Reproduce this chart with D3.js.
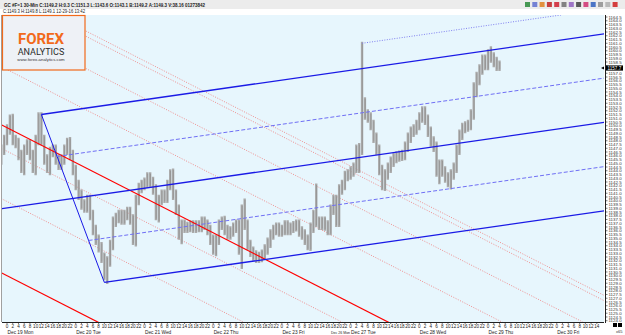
<!DOCTYPE html>
<html><head><meta charset="utf-8">
<script src="https://cdn.jsdelivr.net/npm/d3@7"></script>
<style>body{margin:0;background:#fff;overflow:hidden}svg{display:block;font-family:"Liberation Sans",Arial,sans-serif}</style>
</head><body><svg id="c" width="625" height="335"></svg>
<script>
// ---------------- DATA ----------------
const firstBarHour = -2; // hours relative to Dec 19 00:00, one bar per hour
const barHigh = [1147.3,1148.6,1150.0,1151.3,1151.4,1148.6,1148.2,1146.6,1147.3,1148.0,1148.0,1146.6,1148.6,1151.6,1151.6,1148.6,1146.0,1147.0,1147.3,1147.3,1146.0,1146.0,1147.3,1148.2,1148.3,1146.6,1144.6,1142.6,1141.3,1140.0,1140.6,1140.6,1138.6,1136.6,1135.3,1134.3,1132.9,1132.4,1134.6,1137.7,1138.2,1138.6,1138.6,1138.6,1139.0,1139.0,1138.0,1140.6,1142.2,1142.6,1142.9,1143.6,1143.6,1143.0,1142.0,1140.6,1141.3,1141.3,1142.6,1144.0,1144.1,1141.3,1139.3,1137.3,1137.3,1137.0,1137.2,1137.2,1137.2,1137.2,1137.7,1137.7,1137.3,1136.6,1135.3,1135.3,1137.3,1137.7,1137.8,1136.6,1136.4,1136.9,1137.3,1137.3,1139.3,1140.1,1137.3,1134.6,1133.7,1133.2,1133.0,1133.3,1134.0,1134.9,1136.0,1136.6,1136.9,1136.9,1136.6,1137.2,1137.2,1136.9,1137.1,1137.3,1137.3,1136.4,1136.0,1135.3,1136.9,1138.6,1142.1,1137.7,1137.7,1137.7,1137.2,1139.3,1140.6,1140.6,1142.0,1142.6,1143.8,1144.0,1144.4,1144.9,1147.3,1147.5,1161.0,1153.6,1152.0,1151.6,1150.6,1148.9,1147.3,1144.6,1144.0,1144.9,1145.7,1146.2,1146.4,1146.5,1146.6,1147.7,1148.9,1149.7,1150.0,1150.6,1151.6,1152.4,1152.4,1151.3,1149.7,1148.4,1147.7,1145.3,1145.3,1144.4,1143.6,1144.0,1144.9,1147.3,1149.3,1150.2,1150.4,1150.6,1152.0,1155.6,1157.0,1158.0,1159.3,1159.3,1160.0,1160.4,1159.6,1159.0,1158.5];
const barLow = [1145.0,1146.3,1147.6,1149.0,1147.6,1147.2,1145.6,1143.9,1143.6,1146.3,1145.6,1143.9,1143.6,1147.6,1147.6,1145.0,1143.9,1143.6,1146.0,1145.0,1144.3,1144.3,1145.0,1146.3,1145.6,1143.6,1141.6,1140.3,1139.0,1138.6,1138.6,1137.6,1135.6,1134.3,1133.3,1131.9,1129.6,1129.1,1131.4,1133.6,1136.7,1137.2,1137.0,1137.0,1137.6,1137.0,1134.3,1134.1,1139.6,1141.2,1141.6,1141.9,1142.0,1141.0,1137.6,1137.3,1139.6,1139.9,1139.9,1141.6,1140.3,1138.3,1135.0,1134.4,1135.9,1135.9,1136.0,1135.9,1135.9,1136.0,1136.0,1136.3,1135.6,1134.3,1133.0,1132.8,1134.3,1136.3,1135.6,1135.0,1135.0,1135.4,1135.9,1133.0,1131.1,1136.3,1133.6,1132.7,1132.2,1131.9,1131.9,1132.0,1132.3,1133.0,1133.9,1135.0,1135.6,1135.4,1135.4,1135.6,1135.6,1135.6,1135.9,1136.1,1135.4,1135.0,1134.3,1133.6,1133.5,1135.9,1136.7,1136.3,1136.3,1136.2,1135.6,1135.6,1138.3,1136.7,1136.7,1141.0,1141.6,1142.8,1143.0,1143.4,1143.9,1143.9,1146.3,1151.0,1150.6,1149.6,1147.9,1146.3,1143.6,1141.6,1141.5,1143.0,1143.9,1144.7,1145.2,1145.4,1145.5,1145.6,1146.7,1147.9,1148.7,1149.0,1149.6,1150.6,1150.3,1148.7,1147.4,1146.7,1143.4,1142.4,1143.4,1142.6,1142.0,1141.7,1143.0,1143.9,1146.3,1148.3,1149.2,1149.4,1149.6,1151.0,1154.0,1155.6,1157.0,1157.6,1157.6,1158.6,1158.0,1157.5,1157.5];
const lastPrice = 1157.7;

const dayLabels = ["Dec 19 Mon","Dec 20 Tue","Dec 21 Wed","Dec 22 Thu","Dec 23 Fri","Dec 26 Mon","Dec 27 Tue","Dec 28 Wed","Dec 29 Thu","Dec 30 Fri"];
const dayStartHour = [0,24,48,72,96,113,120,144,168,192];

// Blue Andrews pitchfork pivots [hour, price]
const forkP1 = [-30, 1137.4];
const forkP2 = [12, 1151.5];
const forkP3 = [34, 1129.1];
// Blue dotted trendline [hour, price]
const blueTrend = [[124, 1161.0],[194, 1164.8]];

// Red parallel lines: anchor price at hour 0, common slope (price per hour)
const redSlope = -0.1948;
const redSolidAnchors = [1149.75, 1130.0];
const redDottedAnchors = [1139.9, 1146.6, 1157.5, 1163.0, 1167.3, 1168.0];

const headerLine1 = "GC #F=1 30-Min C:1149.2 H:0.3 C:1151.3 L:1143.6 O:1143.1 B:1149.2 A:1149.3 V:38.16 01273842";
const headerLine2 = "C:1149.3 H:1149.8 L:1149.1 12-29-16 13:42";

// ---------------- DRAW ----------------
const svg = d3.select("#c");
const L = 2, R = 604, T = 15, B = 322;
const x = d3.scaleLinear().domain([-1.75, 208.5]).range([L, R]);
const y = d3.scaleLinear().domain([1123.83, 1164.77]).range([B, T]);

svg.append("rect").attr("width",625).attr("height",335).attr("fill","#ffffff");
// header
svg.append("rect").attr("x",0).attr("y",0).attr("width",625).attr("height",9).attr("fill","#ececec");
svg.append("text").attr("x",4).attr("y",6.6).attr("font-size",5.4).attr("font-weight","bold").attr("fill","#222")
  .attr("textLength",201).attr("lengthAdjust","spacingAndGlyphs").text(headerLine1);
svg.append("text").attr("x",3).attr("y",13.4).attr("font-size",5.2).attr("fill","#222")
  .attr("textLength",82).attr("lengthAdjust","spacingAndGlyphs").text(headerLine2);
// toolbar icons
const iconCols = ["#2a8a3a","#6070d0","#e08020","#c02020","#d02030","#707070","#9060c0","#404040","#d03070","#3060c0","#909090","#b0b0b0","#d02020"];
iconCols.forEach((c,i)=>{
  svg.append("rect").attr("x",525+i*7.3).attr("y",2).attr("width",5).attr("height",5).attr("fill",c).attr("opacity",0.85);
});

// chart area
svg.append("rect").attr("x",L).attr("y",T).attr("width",R-L).attr("height",B-T).attr("fill","#e7f6fd");
svg.append("line").attr("x1",1.5).attr("x2",1.5).attr("y1",T).attr("y2",B).attr("stroke","#a0a0a0").attr("stroke-width",1);
svg.append("defs").append("clipPath").attr("id","clip").append("rect").attr("x",L).attr("y",T).attr("width",R-L).attr("height",B-T);
const plot = svg.append("g").attr("clip-path","url(#clip)");

// red lines
const lineAt = (anchor, h) => anchor + redSlope*h;
redDottedAnchors.forEach(a=>{
  plot.append("line").attr("x1",x(-2)).attr("y1",y(lineAt(a,-2))).attr("x2",x(210)).attr("y2",y(lineAt(a,210)))
    .attr("stroke","#f08f8f").attr("stroke-width",1).attr("stroke-dasharray","1,1.5");
});

// bars
const bars = plot.append("g");
barHigh.forEach((h,i)=>{
  const t = firstBarHour + i;
  bars.append("line").attr("x1",x(t)).attr("x2",x(t)).attr("y1",y(h)-1.5).attr("y2",y(barLow[i])+1.5)
    .attr("stroke","#ababab").attr("stroke-width",2.4);
  bars.append("line").attr("x1",x(t)+0.3).attr("x2",x(t)+0.3).attr("y1",y(h)).attr("y2",y(barLow[i]))
    .attr("stroke","#8a8a8a").attr("stroke-width",0.6);
});

redSolidAnchors.forEach(a=>{
  plot.append("line").attr("x1",x(-2)).attr("y1",y(lineAt(a,-2))).attr("x2",x(210)).attr("y2",y(lineAt(a,210)))
    .attr("stroke","#ff0000").attr("stroke-width",1.2);
});

// blue pitchfork
const M = [(forkP2[0]+forkP3[0])/2, (forkP2[1]+forkP3[1])/2];
const slope = (M[1]-forkP1[1])/(M[0]-forkP1[0]);
const endH = 210;
const seg = (p, h1) => [[p[0],p[1]],[h1, p[1]+slope*(h1-p[0])]];
const drawSeg = (pts, col, w, dash) => plot.append("line")
  .attr("x1",x(pts[0][0])).attr("y1",y(pts[0][1])).attr("x2",x(pts[1][0])).attr("y2",y(pts[1][1]))
  .attr("stroke",col).attr("stroke-width",w).attr("stroke-dasharray",dash||null);
drawSeg([forkP2, forkP3], "#1a1ae6", 1);
drawSeg(seg(forkP1,endH), "#1a1ae6", 1.3);
drawSeg(seg(forkP2,endH), "#1a1ae6", 1.3);
drawSeg(seg(forkP3,endH), "#1a1ae6", 1.3);
const U = [(forkP2[0]+M[0])/2,(forkP2[1]+M[1])/2];
const D = [(forkP3[0]+M[0])/2,(forkP3[1]+M[1])/2];
drawSeg(seg(U,endH), "#6f6ff5", 1, "4,2");
drawSeg(seg(D,endH), "#6f6ff5", 1, "4,2");
drawSeg(blueTrend, "#8080f0", 1, "1,1.5");

// logo (drawn above the chart objects)
const logo = svg.append("g");
logo.append("rect").attr("x",2.5).attr("y",15.5).attr("width",82.5).attr("height",54.5).attr("fill","#eef1f6").attr("stroke","#f26a1b").attr("stroke-width",1.2);
logo.append("text").attr("x",41).attr("y",44).attr("text-anchor","middle").attr("font-size",15).attr("font-weight","bold").attr("fill","#f26a1b").attr("font-family","Roboto,Arial,sans-serif").text("FOREX");
logo.append("text").attr("x",41).attr("y",54.5).attr("text-anchor","middle").attr("font-size",9).attr("fill","#2b2b2b").attr("font-family","Roboto,Arial,sans-serif").text("ANALYTICS");
logo.append("text").attr("x",41).attr("y",60.8).attr("text-anchor","middle").attr("font-size",4.3).attr("fill","#333").text("www.forex-analytics.com");

// x axis
svg.append("rect").attr("x",0).attr("y",B).attr("width",625).attr("height",13).attr("fill","#fff");
svg.append("line").attr("x1",L).attr("x2",R).attr("y1",B+0.5).attr("y2",B+0.5).attr("stroke","#222");
const hourTicks = d3.range(0, 208, 2);
const ax = svg.append("g");
hourTicks.forEach(h=>{
  ax.append("line").attr("x1",x(h)).attr("x2",x(h)).attr("y1",B).attr("y2",B+2).attr("stroke","#222").attr("stroke-width",0.6);
  ax.append("text").attr("x",x(h)).attr("y",B+6).attr("text-anchor","middle").attr("font-size",4.6).attr("fill","#222").text(h%24);
});
dayLabels.forEach((d,i)=>{
  const xx = x(dayStartHour[i]);
  const next = i < dayLabels.length-1 ? x(dayStartHour[i+1]) : 625;
  const room = next - xx - 1;
  const t = ax.append("text").attr("x",xx+0.5).attr("y",B+12).attr("font-size",4.8).attr("fill","#222").text(d);
  const len = t.node().getComputedTextLength();
  if (len > room) t.attr("font-size", Math.max(4.0, 4.8*room/len)).attr("textLength",room).attr("lengthAdjust","spacingAndGlyphs");
});

// price axis
svg.append("rect").attr("x",R).attr("y",T).attr("width",625-R).attr("height",B-T+13).attr("fill","#fff");
svg.append("line").attr("x1",R+1.5).attr("x2",R+1.5).attr("y1",T).attr("y2",B+1).attr("stroke","#222");
const priceTicks = d3.range(1124.0, 1164.51, 0.5);
priceTicks.forEach(p=>{
  svg.append("line").attr("x1",R+1.5).attr("x2",R+3.5).attr("y1",y(p)).attr("y2",y(p)).attr("stroke","#222").attr("stroke-width",0.6);
  if (Math.abs(y(p)-y(lastPrice)) > 4.2)
    svg.append("text").attr("x",R+4.5).attr("y",y(p)+1.6).attr("font-size",4.4).attr("fill","#333").text(p.toFixed(1));
});
svg.append("rect").attr("x",R+2).attr("y",y(lastPrice)-2.6).attr("width",17).attr("height",5.2).attr("fill","#000");
svg.append("text").attr("x",R+3.5).attr("y",y(lastPrice)+1.6).attr("font-size",4.6).attr("fill","#fff").text(lastPrice.toFixed(1));
svg.append("path").attr("d",`M${R-3},${y(lastPrice)} l3,-1.5 v3 z`).attr("fill","#000");
// small corner marks
svg.append("rect").attr("x",613).attr("y",323).attr("width",4).attr("height",4).attr("fill","#000");
svg.append("rect").attr("x",618).attr("y",323).attr("width",4).attr("height",4).attr("fill","#000");
svg.append("text").attr("x",616).attr("y",332.5).attr("font-size",4).attr("fill","#333").text("x65");
</script></body></html>
